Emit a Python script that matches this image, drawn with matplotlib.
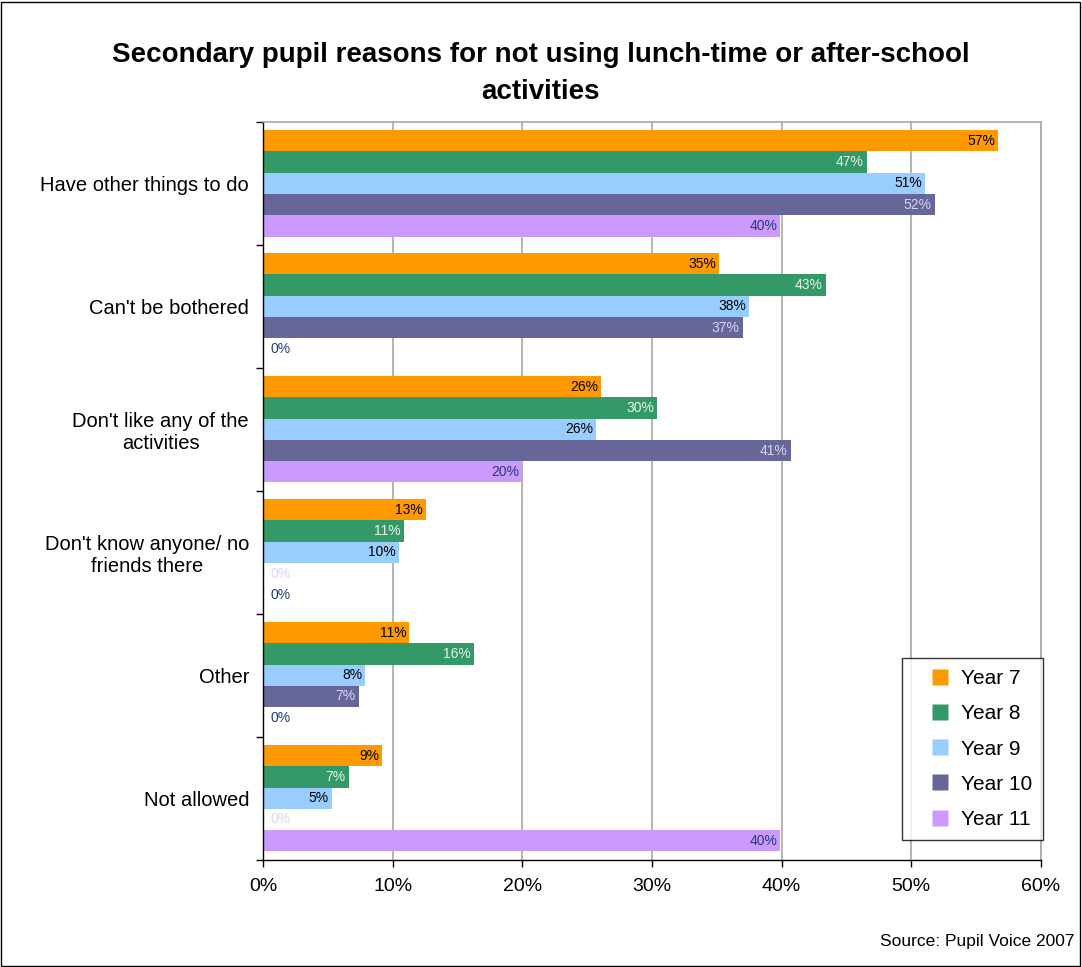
import matplotlib
matplotlib.use("Agg")
import matplotlib.pyplot as plt
import numpy as np
from matplotlib.lines import Line2D
from matplotlib.patches import Rectangle
from matplotlib.ticker import FuncFormatter, MultipleLocator

plt.rcParams['font.family'] = ['Liberation Sans', 'DejaVu Sans']

# reasons, top to bottom
reasons = [
    "Have other things to do",
    "Can't be bothered",
    "Don't like any of the\nactivities",
    "Don't know anyone/ no\nfriends there",
    "Other",
    "Not allowed",
]
years = ["Year 7", "Year 8", "Year 9", "Year 10", "Year 11"]

# percent of pupils, one list per year group
year7 = [56.7, 35.2, 26.1, 12.6, 11.3, 9.2]
year8 = [46.6, 43.4, 30.4, 10.9, 16.3, 6.6]
year9 = [51.1, 37.5, 25.7, 10.5, 7.9, 5.3]
year10 = [51.8, 37.0, 40.7, 0.0, 7.4, 0.0]
year11 = [39.9, 0.0, 20.0, 0.0, 0.0, 39.9]

series = [year7, year8, year9, year10, year11]
bar_colors = ["#FF9900", "#339966", "#99CCFF", "#666699", "#CC99FF"]
label_colors = ["#000000", "#E8F4EC", "#000000", "#D8D4F4", "#1F3F6E"]

fig = plt.figure(figsize=(10.82, 9.67), dpi=100)
ax = fig.add_axes([0.243, 0.111, 0.719, 0.763])

h = 0.173
ypos = np.arange(len(reasons))
for j, (vals, col, lcol) in enumerate(zip(series, bar_colors, label_colors)):
    yy = ypos + (j - 2) * h
    ax.barh(yy, vals, height=h, color=col, edgecolor='none', zorder=2)
    for y, v in zip(yy, vals):
        txt = f"{v:.0f}%"
        if v == 0:
            ax.text(0.55, y, txt, ha='left', va='center', fontsize=10,
                    color=lcol, zorder=3)
        else:
            ax.text(v - 0.25, y, txt, ha='right', va='center', fontsize=10,
                    color=lcol, zorder=3)

ax.set_xlim(0, 60)
ax.set_ylim(len(reasons) - 0.5, -0.5)
ax.xaxis.set_major_locator(MultipleLocator(10))
ax.xaxis.set_major_formatter(FuncFormatter(lambda x, p: f"{x:.0f}%"))
ax.grid(axis='x', color='#A8A8A8', linewidth=1.2, zorder=0)

ax.set_yticks(ypos)
ax.set_yticklabels(reasons, multialignment='center')
ax.set_yticks(np.arange(len(reasons) + 1) - 0.5, minor=True)
ax.tick_params(axis='y', which='major', length=0, pad=10, labelsize=14.5)
ax.tick_params(axis='y', which='minor', length=5, width=1, direction='out')
ax.tick_params(axis='x', which='major', length=5, width=1, direction='out',
               labelsize=14, pad=8)

for side in ['top', 'right']:
    ax.spines[side].set_color('#A8A8A8')
    ax.spines[side].set_linewidth(1.2)
for side in ['left', 'bottom']:
    ax.spines[side].set_color('black')
    ax.spines[side].set_linewidth(1)

# square swatches centred in a wide handle leave room on the left
handles = [Line2D([], [], linestyle='none', marker='s', markersize=11.5,
                  markerfacecolor=c, markeredgecolor='none') for c in bar_colors]
leg = ax.legend(handles, years, loc='lower right', bbox_to_anchor=(1.003, 0.026),
                fontsize=15, frameon=True, fancybox=False, handlelength=2.5,
                labelspacing=0.78, borderpad=0.55, handletextpad=-0.25,
                borderaxespad=0)
leg.get_frame().set_edgecolor('black')
leg.get_frame().set_linewidth(1)
leg.set_zorder(5)

fig.text(0.5, 0.9235, "Secondary pupil reasons for not using lunch-time or after-school\nactivities",
         ha='center', va='center', fontsize=20, fontweight='bold',
         linespacing=1.55)
fig.text(0.993, 0.026, "Source: Pupil Voice 2007", ha='right', va='center',
         fontsize=12.5)

fig.patches.append(Rectangle((0.001, 0.001), 0.997, 0.997, transform=fig.transFigure,
                             fill=False, edgecolor='black', linewidth=1))

fig.savefig("out.png", dpi=100)
